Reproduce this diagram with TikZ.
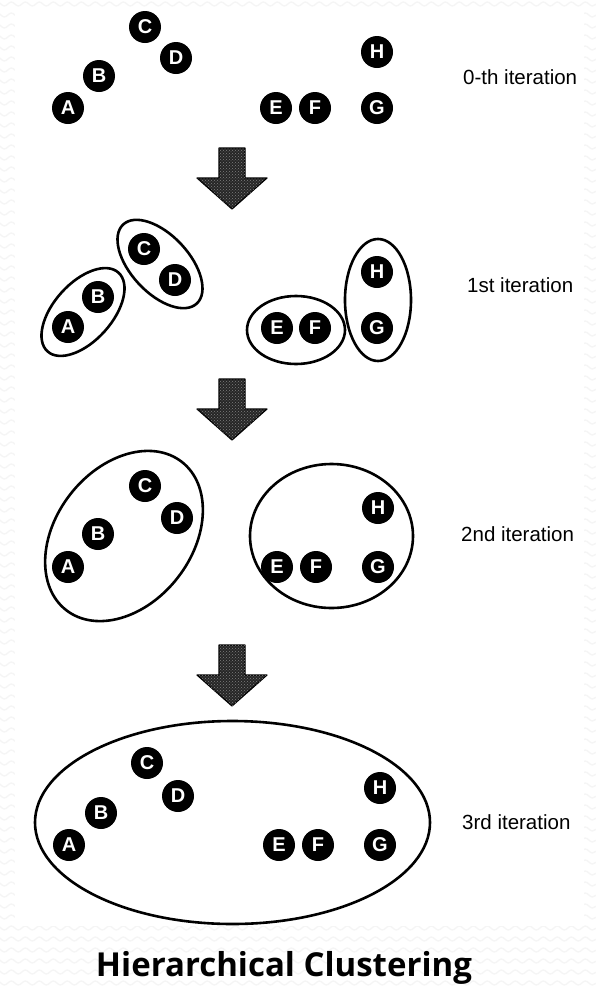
\documentclass[tikz,border=0pt]{standalone}
\usepackage{fontspec}
\setmainfont{Liberation Sans}
\newfontfamily\titlefont{Open Sans}
\usetikzlibrary{patterns,decorations.pathmorphing}

\begin{document}
\begin{tikzpicture}[x=1pt,y=-1pt,
  pt/.style={circle, fill=black, inner sep=0pt, minimum size=32pt, text=white,
             font=\bfseries\fontsize{20}{20}\selectfont},
  cluster/.style={draw=black, line width=2.6pt},
  itlabel/.style={anchor=west, inner sep=0pt, font=\fontsize{20.5}{20.5}\selectfont},
  downarrow/.style={draw=black, line width=1.2pt, fill=black!85, line join=round,
                    postaction={pattern=crosshatch dots, pattern color=black!50}},
  wave/.style={draw=black!4, line width=1.3pt, decorate,
               decoration={snake, segment length=14pt, amplitude=2pt}}]

\useasboundingbox (0,0) rectangle (596,986);

% textured backdrop and the white sheet
\fill[white] (0,0) rectangle (596,986);
\foreach \r in {0,...,90}
  \draw[wave] (-7,{\r*11+4}) -- (603,{\r*11+4});
\fill[white] (15,10) rectangle (584,926);

% down arrow between the stages
\newcommand\stagearrow[2]{%
  \draw[downarrow] (219,#1) -- (245,#1) -- (245,{#1+30}) -- (267,{#1+30})
    -- (232,#2) -- (197,{#1+30}) -- (219,{#1+30}) -- cycle;}

% ---- 0-th iteration
\node[pt] (A0) at (68,108) {A};
\node[pt] (B0) at (99,76) {B};
\node[pt] (C0) at (145,27) {C};
\node[pt] (D0) at (176,58) {D};
\node[pt] (E0) at (276,108) {E};
\node[pt] (F0) at (315,108) {F};
\node[pt] (H0) at (377,52) {H};
\node[pt] (G0) at (377,108) {G};
\node[itlabel] (L0) at (463,77) {0-th iteration};

\stagearrow{148}{209}

% ---- 1st iteration
\draw[cluster, rotate around={48:(83,312)}] (83,312) ellipse [x radius=53pt, y radius=29pt];
\draw[cluster, rotate around={-47:(160,264)}] (160,264) ellipse [x radius=54pt, y radius=29pt];
\draw[cluster] (296,330) ellipse [x radius=49pt, y radius=34pt];
\draw[cluster] (378,300) ellipse [x radius=33pt, y radius=61pt];
\node[pt] (A1) at (68,327) {A};
\node[pt] (B1) at (98,297) {B};
\node[pt] (C1) at (144,249) {C};
\node[pt] (D1) at (175,280) {D};
\node[pt] (E1) at (277,328) {E};
\node[pt] (F1) at (315,328) {F};
\node[pt] (H1) at (377,272) {H};
\node[pt] (G1) at (377,328) {G};
\node[itlabel] (L1) at (467,285) {1st iteration};

\stagearrow{379}{440}

% ---- 2nd iteration
\draw[cluster, rotate around={52:(124,536)}] (124,536) ellipse [x radius=94pt, y radius=68pt];
\draw[cluster] (331.5,536) ellipse [x radius=81.5pt, y radius=72pt];
\node[pt] (A2) at (68,567) {A};
\node[pt] (B2) at (98,534) {B};
\node[pt] (C2) at (145,486) {C};
\node[pt] (D2) at (177,518) {D};
\node[pt] (E2) at (277,567) {E};
\node[pt] (F2) at (316,567) {F};
\node[pt] (H2) at (378,508) {H};
\node[pt] (G2) at (378,567) {G};
\node[itlabel] (L2) at (461,534) {2nd iteration};

\stagearrow{645}{706}

% ---- 3rd iteration
\draw[cluster] (232.5,822.5) ellipse [x radius=197.5pt, y radius=101.5pt];
\node[pt] (A3) at (69,845) {A};
\node[pt] (B3) at (101,813) {B};
\node[pt] (C3) at (147,763) {C};
\node[pt] (D3) at (178,796) {D};
\node[pt] (E3) at (279,845) {E};
\node[pt] (F3) at (318,845) {F};
\node[pt] (H3) at (380,788) {H};
\node[pt] (G3) at (380,845) {G};
\node[itlabel] (L3) at (462,822) {3rd iteration};

% caption
\node[anchor=base, inner sep=0pt, font=\titlefont\bfseries\fontsize{33}{33}\selectfont]
  (title) at (284,976) {Hierarchical Clustering};
\end{tikzpicture}
\end{document}
